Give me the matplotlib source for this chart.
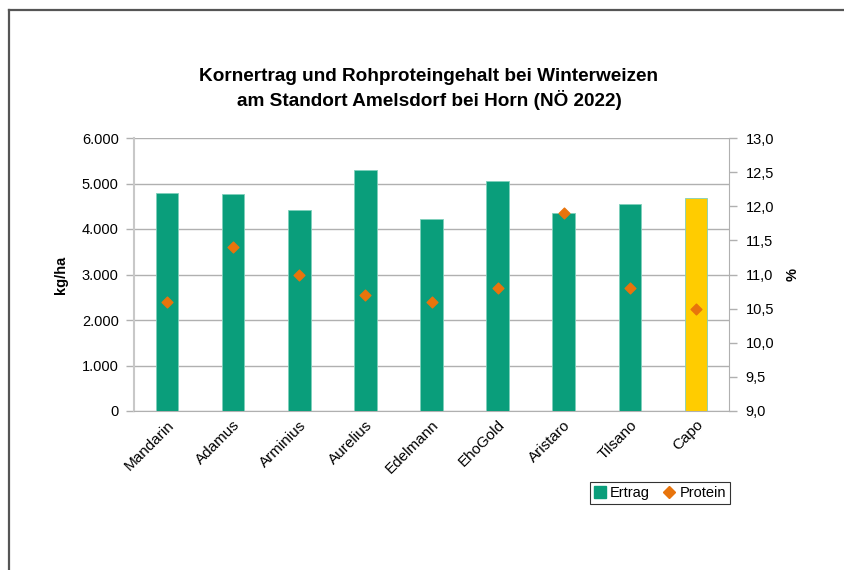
import matplotlib
matplotlib.use("Agg")
import matplotlib.pyplot as plt
from matplotlib.lines import Line2D
from matplotlib.patches import Patch
import numpy as np

plt.rcParams['font.family'] = ['Liberation Sans', 'DejaVu Sans']

sorten = ["Mandarin", "Adamus", "Arminius", "Aurelius", "Edelmann", "EhoGold", "Aristaro", "Tilsano", "Capo"]
ertrag = [4800, 4770, 4410, 5290, 4220, 5050, 4345, 4555, 4680]
protein = [10.6, 11.4, 11.0, 10.7, 10.6, 10.8, 11.9, 10.8, 10.5]
left_ticks = [0, 1000, 2000, 3000, 4000, 5000, 6000]
right_ticks = [9.0, 9.5, 10.0, 10.5, 11.0, 11.5, 12.0, 12.5, 13.0]

green = "#0A9E7B"
yellow = "#FFCC00"
orange = "#E8740C"
bar_colors = [green] * 8 + [yellow]

W, H = 844, 570
fig = plt.figure(figsize=(W / 100, H / 100), dpi=100)
ax = fig.add_axes([134 / W, 1 - 411 / H, (729 - 134) / W, (411 - 138) / H])
x = np.arange(len(sorten))
ax.bar(x, ertrag, width=0.34, color=bar_colors, edgecolor="#7fd0bb", linewidth=0.6, zorder=3)
ax.set_xlim(-0.5, len(sorten) - 0.5)
ax.set_ylim(0, 6000)
ax.set_yticks(left_ticks)
ax.set_yticklabels([f"{v:,}".replace(",", ".") for v in left_ticks], fontsize=10.5)
ax.grid(axis="y", color="#b0b0b0", linewidth=1, zorder=0)
ax.set_axisbelow(True)
for s in ["top", "right"]:
    ax.spines[s].set_visible(False)
ax.spines["left"].set_color("#c8c8c8")
ax.spines["left"].set_linewidth(1.5)
ax.spines["bottom"].set_color("#b0b0b0")
ax.tick_params(axis="y", colors="#b0b0b0", labelcolor="black", length=6, width=1, pad=5)
ax.tick_params(axis="x", length=0, pad=5)
ax.set_xticks(x)
ax.set_xticklabels(sorten, rotation=45, ha="right", rotation_mode="anchor", fontsize=11)
ax.set_ylabel("kg/ha", fontweight="bold", fontsize=10.5, labelpad=10)

ax2 = ax.twinx()
ax2.set_ylim(9, 13)
ax2.set_yticks(right_ticks)
ax2.set_yticklabels([f"{v:.1f}".replace(".", ",") for v in right_ticks], fontsize=10.5)
ax2.scatter(x, protein, marker="D", s=30, color=orange, zorder=4)
for s in ["top", "left", "bottom"]:
    ax2.spines[s].set_visible(False)
ax2.spines["right"].set_color("#b0b0b0")
ax2.tick_params(axis="y", colors="#b0b0b0", labelcolor="black", length=6, width=1, pad=6)
ax2.set_ylabel("%", fontweight="bold", fontsize=10.5, labelpad=8)

fig.text(429 / W, 1 - 89 / H,
         "Kornertrag und Rohproteingehalt bei Winterweizen\nam Standort Amelsdorf bei Horn (NÖ 2022)",
         ha="center", va="center", fontsize=13.7, fontweight="bold", linespacing=1.3)

handles = [Patch(facecolor=green, edgecolor=green),
           Line2D([], [], marker="D", color=orange, linestyle="none", markersize=6)]
leg = fig.legend(handles, ["Ertrag", "Protein"], loc="center",
                 bbox_to_anchor=(660 / W, 1 - 493 / H), ncol=2, fontsize=10.5,
                 frameon=True, fancybox=False, handlelength=0.8, handletextpad=0.3,
                 columnspacing=0.9, borderpad=0.3, handleheight=0.8)
leg.get_frame().set_edgecolor("black")
leg.get_frame().set_linewidth(0.8)

# outer frame
fig.add_artist(Line2D([8.5 / W, 1.0], [1 - 9.5 / H, 1 - 9.5 / H], color="#555555", linewidth=1.6,
                      transform=fig.transFigure))
fig.add_artist(Line2D([8.5 / W, 8.5 / W], [1 - 9.5 / H, 0], color="#555555", linewidth=1.6,
                      transform=fig.transFigure))

fig.savefig("out.png", dpi=100)
